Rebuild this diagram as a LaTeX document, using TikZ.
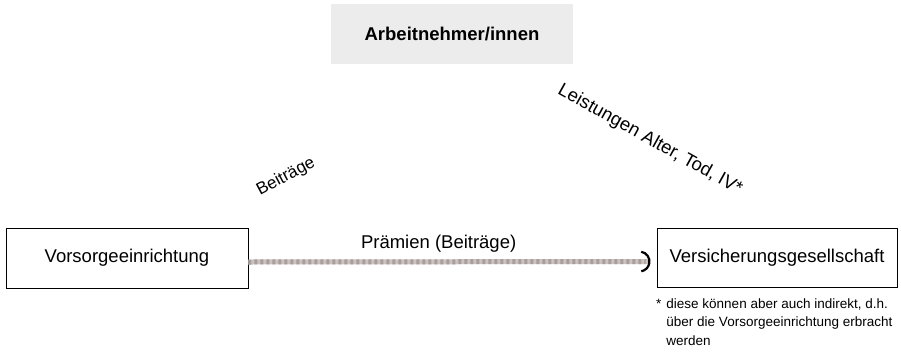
\documentclass[tikz,border=0pt]{standalone}
\usepackage{fontspec}
\setmainfont{Liberation Sans}
\usetikzlibrary{arrows.meta,positioning}

\definecolor{headgray}{RGB}{236,236,236}
\definecolor{premlight}{RGB}{204,194,190}
\definecolor{premdark}{RGB}{168,158,156}

\begin{document}
\begin{tikzpicture}[x=1pt,y=-1pt,
  box/.style={draw, line width=0.9pt, minimum width=242pt, minimum height=60pt, inner sep=0pt, font=\fontsize{18.5}{22}\selectfont},
  headbox/.style={fill=headgray, minimum width=242pt, minimum height=60pt, inner sep=0pt, font=\fontsize{18.5}{22}\selectfont\bfseries},
  flow/.style={line width=5pt, premlight, shorten >=6pt},
  flowdash/.style={line width=5pt, premdark, dash pattern=on 3pt off 3pt, shorten >=11pt},
  lbl/.style={font=\fontsize{17}{21}\selectfont, inner sep=0pt},
  foot/.style={font=\fontsize{13.5}{18.5}\selectfont, inner sep=0pt, anchor=north west}
]
\fill[white] (0,0) rectangle (901,351);
\useasboundingbox (0,0) rectangle (901,351);

% the three parties
\node[headbox] (arbeit) at (452,34) {Arbeitnehmer/innen};
\node[box] (vorsorge) at (127,258) {Vorsorgeeinrichtung};
\node[box, minimum width=240pt, minimum height=59pt] (vers) at (777,257.5) {Versicherungsgesellschaft};

% premium flow
\draw[flow, -{Arc Barb[arc=160, length=11pt, line width=2.2pt, color=black]}]
  ([yshift=-4pt]vorsorge.east) -- node[pos=0.466, above=4pt, text=black, font=\fontsize{18.5}{22}\selectfont] (praem) {Prämien (Beiträge)} ([yshift=-4pt]vers.west);
\draw[flowdash] ([yshift=-4pt]vorsorge.east) -- ([yshift=-4pt]vers.west);

% contributions and benefits
\node[lbl, rotate=28] (beitr) at (286,177) {Beiträge};
\node[lbl, rotate=-29, font=\fontsize{18.5}{22}\selectfont] (leist) at (650,140) {Leistungen Alter, Tod, IV*};

% footnote
\node[foot] (fn) at (656,295) {\begin{tabular}{@{}l@{\hspace{5pt}}l@{}}
*&diese können aber auch indirekt, d.h.\\
&über die Vorsorgeeinrichtung erbracht\\
&werden
\end{tabular}};
\end{tikzpicture}
\end{document}
